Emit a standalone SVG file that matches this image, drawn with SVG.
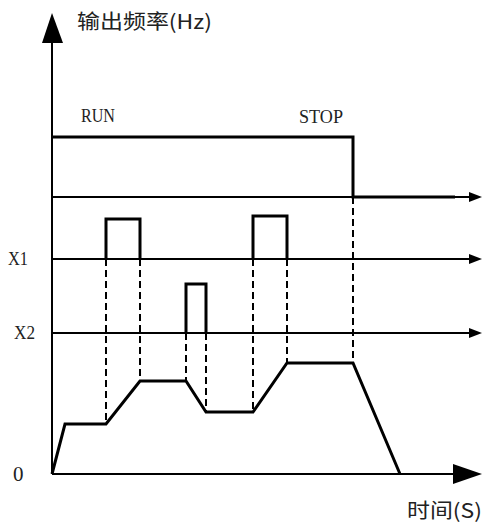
<svg xmlns="http://www.w3.org/2000/svg" width="482" height="523" viewBox="0 0 482 523">
<style>
.ax{stroke:#000;stroke-width:2;fill:none}
.sig{stroke:#000;stroke-width:3;fill:none;stroke-linejoin:miter}
.dash{stroke:#000;stroke-width:2;fill:none;stroke-dasharray:7,4}
.lat{font-family:"Liberation Serif",serif;font-size:18px;fill:#222}
.cjk{font-family:"Noto Sans CJK SC",sans-serif;font-size:20px;fill:#222}
.ah{fill:#000}
</style>
<rect width="482" height="523" fill="#fff"/>
<g id="connectors">
<line class="ax" x1="52" y1="474" x2="52" y2="40"/>
<polygon class="ah" points="52,13 42,43 63,43"/>
<line class="ax" x1="52" y1="474" x2="455" y2="474"/>
<polygon class="ah" points="482,474 453,464 453,484"/>
<line class="ax" x1="52" y1="197" x2="472" y2="197"/>
<polygon class="ah" points="482,197 469,192 469,202"/>
<line class="ax" x1="52" y1="259" x2="472" y2="259"/>
<polygon class="ah" points="482,259 469,254 469,264"/>
<line class="ax" x1="52" y1="333" x2="472" y2="333"/>
<polygon class="ah" points="482,333 469,328 469,338"/>
<path class="dash" d="M106,259V424M140,259V381M186,333V381M206,333V412M253,259V412M287,259V363M353,197V363"/>
</g>
<g id="run-signal"><path class="sig" d="M52,137H353V197H455"/></g>
<g id="x1-pulse-1"><path class="sig" d="M106,259V219H140V259"/></g>
<g id="x2-pulse"><path class="sig" d="M186,333V284H206V333"/></g>
<g id="x1-pulse-2"><path class="sig" d="M253,259V216H287V259"/></g>
<g id="frequency-curve"><path class="sig" d="M52,474L65,424H106L140,381H186L206,412H253L287,363H353L400,474"/></g>
<g id="labels">
<text class="cjk" x="77" y="29" textLength="135" lengthAdjust="spacingAndGlyphs">输出频率(Hz)</text>
<text class="lat" x="81" y="122" textLength="34" lengthAdjust="spacingAndGlyphs">RUN</text>
<text class="lat" x="299" y="123" textLength="44" lengthAdjust="spacingAndGlyphs">STOP</text>
<text class="lat" x="8" y="265" textLength="20" lengthAdjust="spacingAndGlyphs">X1</text>
<text class="lat" x="14" y="339" textLength="21" lengthAdjust="spacingAndGlyphs">X2</text>
<text class="lat" x="13" y="481" style="font-size:21px">0</text>
<text class="cjk" x="407" y="518" textLength="75" lengthAdjust="spacingAndGlyphs">时间(S)</text>
</g>
</svg>
